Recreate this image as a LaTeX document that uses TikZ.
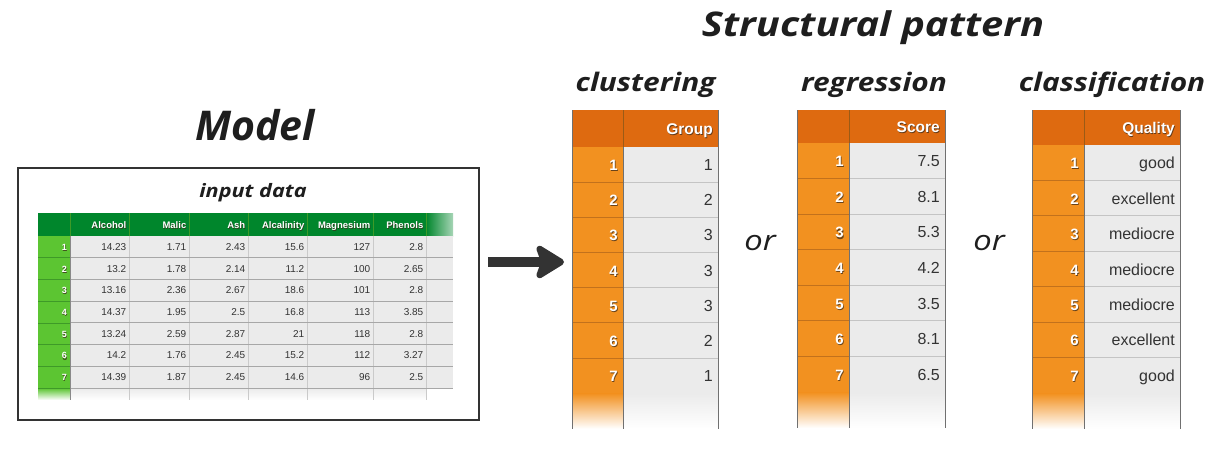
\documentclass[tikz,border=0pt]{standalone}
\usepackage{fontspec}
\setmainfont{Liberation Sans}
\newfontfamily\tfont{Open Sans}
\newfontfamily\tfontw{Open Sans}[FakeStretch=1.17]
\usetikzlibrary{arrows.meta}
\definecolor{ohead}{HTML}{DE6A10}
\definecolor{orow}{HTML}{F29120}
\definecolor{olinec}{HTML}{C2711C}
\definecolor{cellc}{HTML}{EBEBEB}
\definecolor{clinec}{HTML}{C4C4C4}
\definecolor{edgec}{HTML}{707070}
\definecolor{ghead}{HTML}{00862C}
\definecolor{grnrow}{HTML}{5CC532}
\definecolor{glinec}{HTML}{3E9A28}
\definecolor{txtc}{HTML}{333333}
\definecolor{shd}{HTML}{3A2A1A}
\definecolor{ink}{HTML}{1E1E1E}
\definecolor{arrowc}{HTML}{333333}
\tikzset{
  title/.style={font=\tfontw\bfseries\itshape\fontsize{#1}{#1}\selectfont, text=ink, inner sep=0pt, anchor=base},
  titlen/.style={font=\tfont\bfseries\itshape\fontsize{#1}{#1}\selectfont, text=ink, inner sep=0pt, anchor=base},
  ortext/.style={font=\tfontw\itshape\fontsize{#1}{#1}\selectfont, text=ink, inner sep=0pt, anchor=base},
  val/.style={font=\fontsize{#1}{#1}\selectfont, text=txtc, inner sep=0pt, anchor=base east},
  wtxt/.style={font=\bfseries\fontsize{#1}{#1}\selectfont, text=white, inner sep=0pt, anchor=base east},
  stxt/.style={font=\bfseries\fontsize{#1}{#1}\selectfont, text=shd, opacity=0.75, inner sep=0pt, anchor=base east},
  oline/.style={draw=olinec, line width=0.8pt},
  cline/.style={draw=clinec, line width=0.8pt},
  edge/.style={draw=edgec, line width=0.9pt},
  gline/.style={draw=glinec, line width=0.6pt},
  bigarrow/.style={draw=arrowc, fill=arrowc, line width=10pt, -{Stealth[length=33pt,width=40pt,inset=7pt,round]}},
}
% shadowed white text: name, x, y, size, text
\newcommand{\shtext}[5]{%
  \node[stxt=#4] (#1s) at ({#2+0.7},{#3+1.1}) {#5};
  \node[wtxt=#4] (#1) at (#2,#3) {#5};}
% orange table: name, L, M, R, T, HB, RH, header, values
\newcommand{\otable}[9]{%
  \fill[ohead] (#2,#5) rectangle (#4,#6);
  \draw[olinec!80!black] (#3,#5) -- (#3,#6);
  \pgfmathsetmacro\hy{(#5+#6)/2+5.5}
  \shtext{#1-h}{#4-5}{\hy}{15.5}{#8}
  \pgfmathsetmacro\ya{#6}
  \pgfmathsetmacro\yb{#6+7*#7}
  \fill[orow] (#2,\ya) rectangle (#3,\yb);
  \fill[cellc] (#3,\ya) rectangle (#4,\yb);
  \foreach \v [count=\i] in {#9} {
    \pgfmathsetmacro\ya{#6+(\i-1)*#7}
    \pgfmathsetmacro\yb{\ya+#7}
    \pgfmathsetmacro\ym{(\ya+\yb)/2+6}
    \draw[oline] (#2,\yb) -- (#3,\yb);
    \draw[cline] (#3,\yb) -- (#4,\yb);
    \shtext{#1-n\i}{#3-5}{\ym}{15}{\i}
    \node[val=16] (#1-v\i) at (#4-5,\ym) {\v};
  }
  \pgfmathsetmacro\ya{#6+7*#7+0.5}
  \pgfmathsetmacro\yb{\ya+#7}
  \shade[top color=orow, bottom color=white] (#2,\ya) rectangle (#3,\yb);
  \shade[top color=cellc, bottom color=white] (#3,\ya) rectangle (#4,\yb);
  \draw[edge] (#2,#5) -- (#2,\yb) (#3,#6) -- (#3,\yb) (#4,#5) -- (#4,\yb);
}
\begin{document}
\begin{tikzpicture}[x=1pt,y=-1pt]
\useasboundingbox (0,0) rectangle (1228,452);
\fill[white] (0,0) rectangle (1228,452);

% titles
\node[title=34] (sp) at (873,37) {Structural pattern};
\node[title=25.5] (clu) at (645.5,91) {clustering};
\node[title=25.5] (reg) at (874,91) {regression};
\node[title=25.5] (cla) at (1112,92) {classification};
\node[titlen=41] (model) at (255,140) {Model};

% model box
\node[draw=arrowc, line width=2pt, minimum width=461pt, minimum height=252pt, anchor=north west, inner sep=0pt] (box) at (17,167) {};
\node[title=18.5] (inp) at (253,197) {input data};

% green table
\fill[ghead] (38,213) rectangle (426,236);
\shade[left color=ghead, right color=ghead!35!white] (426,213) rectangle (453,236);
\foreach \x in {70,129,189,248,307,373,426} \draw[gline] (\x,213) -- (\x,236);
\foreach \h [count=\c] in {Alcohol,Malic,Ash,Alcalinity,Magnesium,Phenols} {
  \pgfmathsetmacro\xr{{129,189,248,307,373,426}[\c-1]-2.5}
  \shtext{gh\c}{\xr}{228}{9.5}{\h}
}
\fill[grnrow] (38,236) rectangle (70,387.9);
\fill[cellc] (70,236) rectangle (453,387.9);
\shade[top color=grnrow, bottom color=white] (38,388.3) rectangle (70,400);
\shade[top color=cellc, bottom color=white] (70,388.3) rectangle (426,400);
\foreach \x in {129,189,248,307,373} \draw[draw=clinec!90!white, line width=0.7pt] (\x,236) -- (\x,400);
\draw[draw=clinec!90!white, line width=0.7pt] (426,236) -- (426,400);
\foreach \r/\vals in {1/{14.23,1.71,2.43,15.6,127,2.8},2/{13.2,1.78,2.14,11.2,100,2.65},3/{13.16,2.36,2.67,18.6,101,2.8},4/{14.37,1.95,2.5,16.8,113,3.85},5/{13.24,2.59,2.87,21,118,2.8},6/{14.2,1.76,2.45,15.2,112,3.27},7/{14.39,1.87,2.45,14.6,96,2.5}} {
  \pgfmathsetmacro\ya{236+(\r-1)*21.7}
  \pgfmathsetmacro\yb{\ya+21.7}
  \pgfmathsetmacro\ym{(\ya+\yb)/2+3.6}
  \draw[gline] (38,\yb) -- (70,\yb);
  \draw[draw=clinec!85!black, line width=0.7pt] (70,\yb) -- (453,\yb);
  \shtext{gn\r}{67}{\ym}{9}{\r}
  \foreach \v [count=\c] in \vals {
    \pgfmathsetmacro\xr{{129,189,248,307,373,426}[\c-1]-2.5}
    \node[val=10] (g\r-\c) at (\xr,\ym) {\v};
  }
}
\draw[draw=clinec!70!black, line width=0.7pt] (70,236) -- (70,400);

% arrow
\coordinate (aS) at (488,262);
\coordinate (aE) at (564,262);
\draw[bigarrow] (aS) -- (aE);

% output tables
\otable{t1}{572}{623}{718}{110}{147}{35.15}{Group}{1,2,3,3,3,2,1}
\otable{t2}{797}{849}{945}{110}{143}{35.57}{Score}{7.5,8.1,5.3,4.2,3.5,8.1,6.5}
\otable{t3}{1032}{1084}{1180}{110}{145}{35.43}{Quality}{good,excellent,mediocre,mediocre,mediocre,excellent,good}

\node[ortext=28] (or1) at (760,250) {or};
\node[ortext=28] (or2) at (989,250) {or};
\end{tikzpicture}
\end{document}
